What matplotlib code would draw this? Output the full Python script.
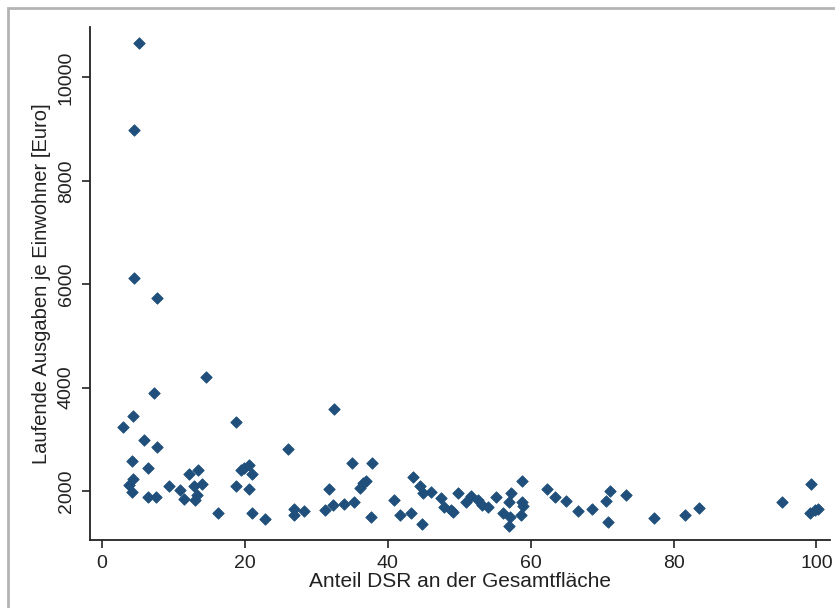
import matplotlib
matplotlib.use("Agg")
from matplotlib import pyplot as plt
from matplotlib.patches import Rectangle

# Anteil DSR an der Gesamtfläche (%)
anteil = [
    5.2, 4.45, 4.45, 7.72, 14.6, 7.25, 32.5, 18.7, 2.87, 4.36,
    5.9, 7.72, 26.0, 4.13, 6.46, 4.36, 3.8, 4.13, 6.46, 7.5,
    9.4, 10.9, 11.5, 12.2, 13.4, 12.9, 14.0, 13.0, 13.3, 16.2,
    18.7, 20.6, 19.5, 20.5, 21.0, 19.9, 21.0, 22.8, 26.8, 26.8,
    28.3, 31.2, 32.3, 31.8, 33.8, 35.3, 35.0, 37.8, 36.1, 36.5,
    36.9, 37.7, 40.8, 41.7, 43.3, 44.8, 43.5, 44.5, 44.9, 46.1,
    47.4, 47.9, 48.9, 49.1, 49.8, 51.0, 51.7, 52.6, 53.2, 54.0,
    55.1, 56.1, 57.1, 57.0, 57.3, 57.0, 58.8, 58.8, 58.9, 58.6,
    62.3, 63.4, 64.9, 66.6, 68.6, 71.1, 70.6, 70.8, 73.4, 77.3,
    81.6, 83.6, 95.2, 99.2, 99.1, 99.8, 100.2,
]

# Laufende Ausgaben je Einwohner (Euro)
ausgaben = [
    10670, 8982, 6114, 5727, 4199, 3890, 3580, 3334, 3232, 3445,
    2992, 2851, 2818, 2580, 2435, 2226, 2122, 1986, 1878, 1890,
    2091, 2025, 1839, 2329, 2406, 2091, 2130, 1826, 1923, 1569,
    2097, 2033, 2406, 2497, 2329, 2439, 1575, 1464, 1646, 1536,
    1604, 1638, 1720, 2033, 1745, 1783, 2547, 2547, 2052, 2145,
    2193, 1503, 1820, 1536, 1580, 1368, 2271, 2106, 1955, 1986,
    1868, 1691, 1633, 1584, 1961, 1793, 1898, 1816, 1729, 1681,
    1890, 1575, 1503, 1327, 1967, 1787, 2199, 1778, 1710, 1536,
    2033, 1884, 1812, 1613, 1646, 2000, 1812, 1400, 1923, 1472,
    1536, 1677, 1781, 2130, 1580, 1633, 1652,
]

xticks = [0, 20, 40, 60, 80, 100]
yticks = [2000, 4000, 6000, 8000, 10000]

plt.rcParams['font.family'] = ['Liberation Sans', 'DejaVu Sans']

fig = plt.figure(figsize=(8.35, 6.08), dpi=100)
fig.patch.set_facecolor('white')

# grey outer frame (cut off at right and bottom like the screenshot)
fig.patches.append(Rectangle((8 / 835, -0.05), 1.1, 1 - 8 / 608 + 0.05,
                             transform=fig.transFigure, fill=False,
                             edgecolor='#b4b4b4', linewidth=2.0))

ax = fig.add_axes([90 / 835, 1 - 540 / 608, 740 / 835, 513 / 608])
ax.scatter(anteil, ausgaben, marker='D', s=34, color='#1f4f7a',
           edgecolors='#1f4f7a', linewidths=0.6, zorder=3)

ax.set_xlim(-1.7, 101.9)
ax.set_ylim(1052, 10974)
ax.set_xticks(xticks)
ax.set_yticks(yticks)
ax.set_yticklabels([str(v) for v in yticks], rotation=90, va='center')

for side in ['top', 'right']:
    ax.spines[side].set_visible(False)
for side in ['left', 'bottom']:
    ax.spines[side].set_linewidth(1.3)
    ax.spines[side].set_color('#222222')

ax.tick_params(direction='out', length=6, width=1.2, color='#222222',
               labelsize=14, labelcolor='#222222')
ax.tick_params(axis='x', pad=5)
ax.tick_params(axis='y', pad=5)

ax.set_xlabel('Anteil DSR an der Gesamtfläche', fontsize=15, color='#222222', labelpad=0)
ax.set_ylabel('Laufende Ausgaben je Einwohner [Euro]', fontsize=14.5, color='#222222', labelpad=5)

fig.savefig('out.png', dpi=100)
